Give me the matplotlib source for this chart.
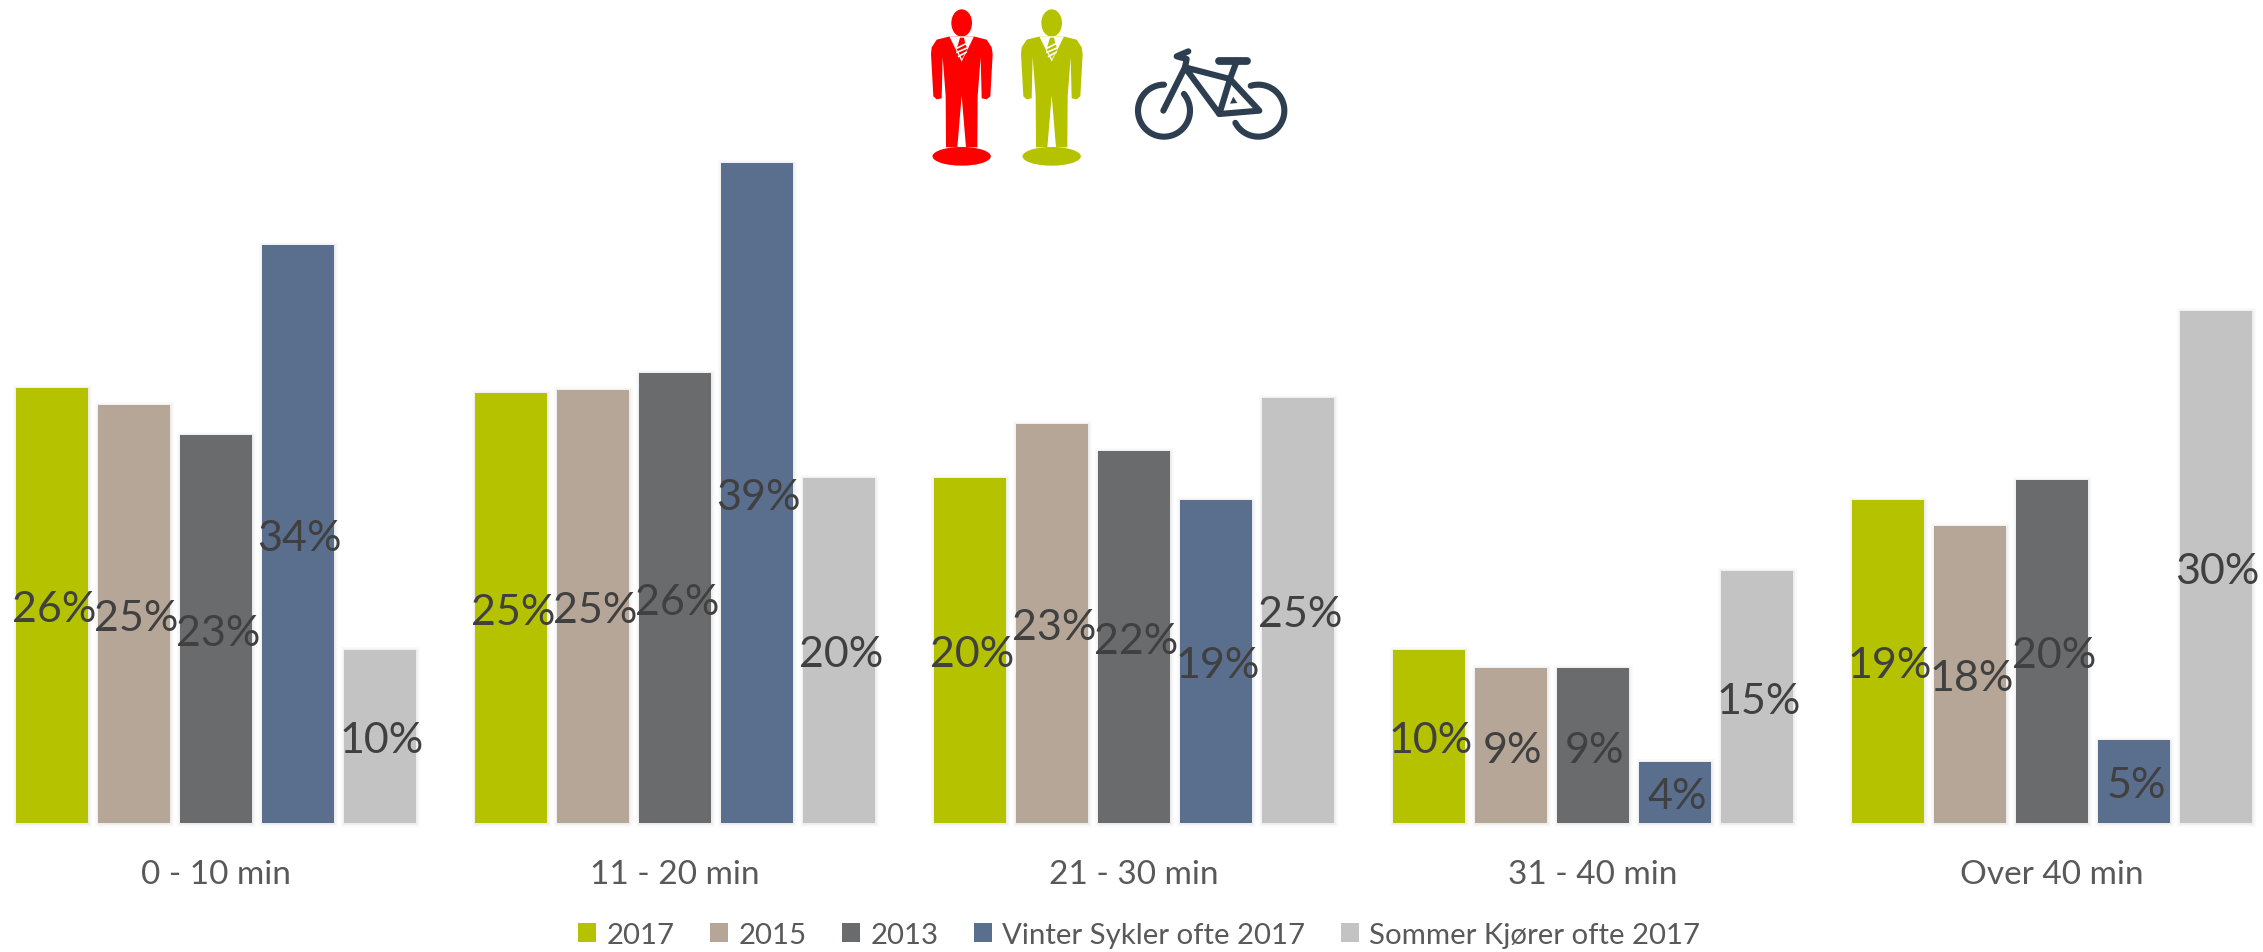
import numpy as np
import matplotlib
matplotlib.use("Agg")
import matplotlib.pyplot as plt
import matplotlib.patheffects as pe
from matplotlib.patches import Ellipse, Polygon

plt.rcParams["font.family"] = ["Lato", "DejaVu Sans"]

categories = ["0 - 10 min", "11 - 20 min", "21 - 30 min", "31 - 40 min", "Over 40 min"]
series_names = ["2017", "2015", "2013", "Vinter Sykler ofte 2017", "Sommer Kjører ofte 2017"]
colors = ["#B5C200", "#B5A698", "#6A6B6D", "#5A6E8E", "#C3C3C3"]

v2017 = [25.6, 25.3, 20.3, 10.2, 19.0]
v2015 = [24.6, 25.5, 23.5, 9.1, 17.5]
v2013 = [22.8, 26.5, 21.9, 9.1, 20.2]
vinter = [34.0, 38.8, 19.0, 3.6, 4.9]
sommer = [10.2, 20.3, 25.0, 14.8, 30.1]
labels_2017 = ["26%", "25%", "20%", "10%", "19%"]
labels_2015 = ["25%", "25%", "23%", "9%", "18%"]
labels_2013 = ["23%", "26%", "22%", "9%", "20%"]
labels_vinter = ["34%", "39%", "19%", "4%", "5%"]
labels_sommer = ["10%", "20%", "25%", "15%", "30%"]

all_values = [v2017, v2015, v2013, vinter, sommer]
all_labels = [labels_2017, labels_2015, labels_2013, labels_vinter, labels_sommer]

fig = plt.figure(figsize=(22.63, 9.53), dpi=100)
ax = fig.add_axes([0, 0, 1, 1])

x = np.arange(len(categories))
step = 82 / 459
width = 72 / 459
shadow = [pe.Stroke(linewidth=5, foreground="#000000", alpha=0.02),
          pe.Stroke(linewidth=2.5, foreground="#000000", alpha=0.04),
          pe.Normal()]
for i, (vals, labs) in enumerate(zip(all_values, all_labels)):
    pos = x + (i - 2) * step
    bars = ax.bar(pos, vals, width, color=colors[i], label=series_names[i],
                  linewidth=0)
    for b in bars:
        b.set_path_effects(shadow)
    for p, v, lab in zip(pos, vals, labs):
        ax.annotate(lab, (p + 0.004, v / 2), xytext=(0, -4), textcoords="offset pixels",
                    ha="center", va="center", fontsize=31, color="#404040", zorder=5)

ax.set_xlim(-216 / 459, (2263 - 216) / 459)
ax.set_ylim(-129 / 17, 824 / 17)
ax.set_xticks(x, categories)
ax.set_yticks([])
ax.tick_params(axis="x", length=0, pad=26, labelsize=24, labelcolor="#595959")
for s in ["left", "right", "top"]:
    ax.spines[s].set_visible(False)
ax.spines["bottom"].set_position(("data", 0))
ax.spines["bottom"].set_visible(False)

handles, names = ax.get_legend_handles_labels()
leg = ax.legend(handles, names, ncol=5, frameon=False, loc="center",
                bbox_to_anchor=(1139 / 2263, 1 - 936 / 953), fontsize=21.2,
                labelcolor="#595959", handlelength=0.62, handleheight=0.65,
                handletextpad=0.35, columnspacing=1.2)
for h in leg.legend_handles:
    h.set_path_effects([])

# icons, drawn on an overlay in pixel space
ov = fig.add_axes([0, 0, 1, 1], zorder=10)
ov.set_xlim(0, 2263)
ov.set_ylim(953, 0)
ov.axis("off")
ov.patch.set_alpha(0)


def to_px(pts, cx=0.0):
    # crop coordinates of the zoomed icon -> figure pixels
    return [((px + cx) / 3 + 880, py / 3) for px, py in pts]


person_body = [(210, 112), (170, 122), (155, 145), (153, 165), (160, 292), (170, 301),
               (185, 298), (188, 175), (197, 290), (198, 445), (232, 445), (245, 290),
               (258, 445), (292, 445), (293, 290), (302, 175), (305, 298), (320, 301),
               (331, 292), (338, 165), (335, 145), (320, 122), (280, 112)]
person_vee = [(208, 112), (245, 188), (282, 112)]
person_tie = [(240, 116), (252, 116), (255, 130), (262, 150), (246, 180), (230, 150), (236, 130)]
tie_stripes = [[(232, 147), (258, 134)], [(231, 160), (261, 147)], [(236, 172), (258, 160)]]


def draw_person(cx, color):
    ov.add_patch(Ellipse(to_px([(245, 72)], cx)[0], 62 / 3, 82 / 3, color=color, lw=0))
    ov.add_patch(Ellipse(to_px([(245, 472)], cx)[0], 175 / 3, 56 / 3, color=color, lw=0))
    ov.add_patch(Polygon(to_px(person_body, cx), closed=True, color=color, lw=0))
    ov.add_patch(Polygon(to_px(person_vee, cx), closed=True, color="white", lw=0))
    ov.add_patch(Polygon(to_px(person_tie, cx), closed=True, color=color, lw=0))
    for st in tie_stripes:
        p = to_px(st, cx)
        ov.plot([p[0][0], p[1][0]], [p[0][1], p[1][1]], color="white", lw=1.2)


draw_person(0, "#FF0000")
draw_person(270, "#B5C200")

bike = "#2C3E50"


def wheel(cx, cy, a0, a1):
    t = np.radians(np.linspace(a0, a1, 80))
    p = to_px(np.column_stack([cx + 78 * np.cos(t), cy - 78 * np.sin(t)]))
    ov.plot(*zip(*p), color=bike, lw=4.4, solid_capstyle="round")


wheel(852, 335, 90, 400)
wheel(1135, 335, 107, -152)
frame = [[(850, 335), (915, 205), (1050, 240), (1018, 345), (922, 215)],
         [(1018, 345), (1138, 335), (1050, 240)],
         [(915, 205), (920, 180), (890, 172), (925, 157)]]
for seg in frame:
    ov.plot(*zip(*to_px(seg)), color=bike, lw=4.4, solid_capstyle="round",
            solid_joinstyle="round")
ov.plot(*zip(*to_px([(1050, 240), (1070, 187)])), color=bike, lw=4.4)
ov.plot(*zip(*to_px([(1018, 186), (1100, 186)])), color=bike, lw=5.6, solid_capstyle="round")
ov.add_patch(Polygon(to_px([(1060, 293), (1072, 312), (1050, 314)]), closed=True, color=bike, lw=0))

fig.savefig("out.png", dpi=100)
